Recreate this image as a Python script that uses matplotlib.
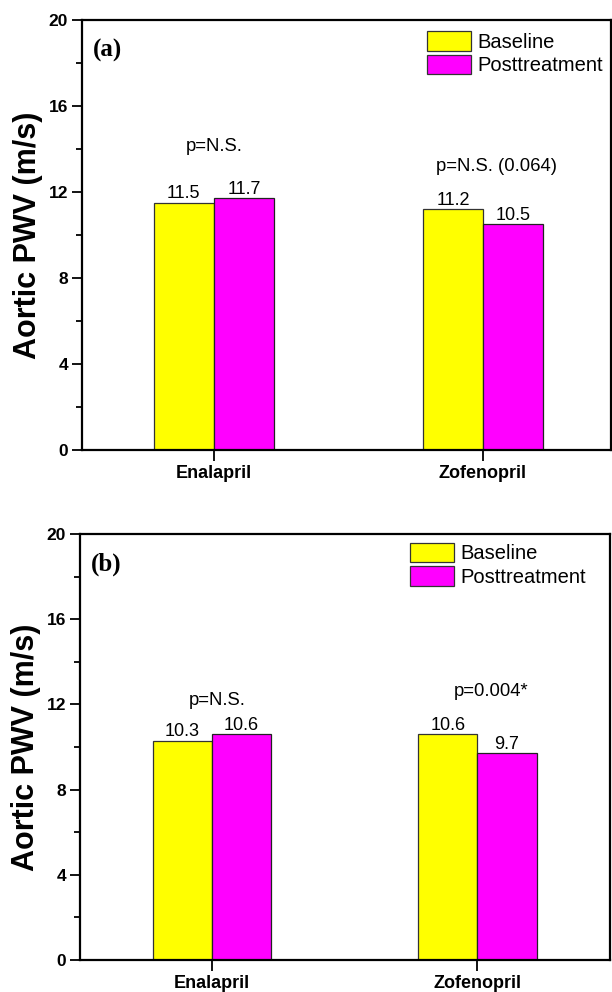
import matplotlib
matplotlib.use("Agg")
import matplotlib.pyplot as plt
from matplotlib.patches import Patch
from matplotlib.ticker import MultipleLocator

categories = ["Enalapril", "Zofenopril"]
series_names = ["Baseline", "Posttreatment"]
baseline_a = [11.5, 11.2]
post_a = [11.7, 10.5]
baseline_b = [10.3, 10.6]
post_b = [10.6, 9.7]
pvals_a = ["p=N.S.", "p=N.S. (0.064)"]
pvals_b = ["p=N.S.", "p=0.004*"]
pval_y_a = [14.1, 13.2]
pval_y_b = [12.2, 12.6]
pval_dx_a = [0.0, 0.05]
pval_dx_b = [0.02, 0.05]
panel_labels = ["(a)", "(b)"]
yticks = [0, 4, 8, 12, 16, 20]

plt.rcParams['font.family'] = ['Liberation Sans', 'DejaVu Sans']

fig = plt.figure(figsize=(6.12, 9.92), dpi=100)
ax_a = fig.add_axes([82/612, (992-450)/992, 529/612, 430/992])
ax_b = fig.add_axes([80/612, (992-960)/992, 530/612, 426/992])

colors = ["#FFFF00", "#FF00FF"]
bw = 0.223

def draw(ax, base, post, pvals, pys, pdx, plabel, leg_anchor, xlim):
    x = list(range(len(categories)))
    b1 = ax.bar([i - bw/2 for i in x], base, width=bw, color=colors[0],
                edgecolor="#333333", linewidth=0.9)
    b2 = ax.bar([i + bw/2 for i in x], post, width=bw, color=colors[1],
                edgecolor="#222222", linewidth=0.9)
    for bars, vals in ((b1, base), (b2, post)):
        for r, v in zip(bars, vals):
            ax.annotate(f"{v:.1f}", (r.get_x() + r.get_width()/2, v),
                        xytext=(0, 0.5), textcoords="offset points",
                        ha="center", va="bottom", fontsize=13)
    for i, (t, y, dx) in enumerate(zip(pvals, pys, pdx)):
        ax.text(i + dx, y, t, ha="center", va="center", fontsize=13.3)
    ax.set_ylim(0, 20)
    ax.set_xlim(*xlim)
    ax.set_xticks(x)
    ax.set_xticklabels(categories, fontsize=13, fontweight="bold")
    ax.set_yticks(yticks)
    ax.set_yticklabels([str(t) for t in yticks], fontsize=12.5, fontweight="bold")
    ax.yaxis.set_minor_locator(MultipleLocator(2))
    ax.tick_params(axis="y", which="major", direction="out", length=7, width=1.3, pad=3)
    ax.tick_params(axis="y", which="minor", direction="out", length=4, width=1.3)
    ax.tick_params(axis="x", which="major", direction="out", length=8, width=1.3, pad=3)
    for s in ax.spines.values():
        s.set_linewidth(1.6)
    ax.set_ylabel("Aortic PWV (m/s)", fontsize=22, fontweight="bold", labelpad=4)
    ax.text(0.021, 0.93, plabel, transform=ax.transAxes, ha="left", va="center",
            fontsize=18, fontweight="bold", family=["Liberation Serif", "DejaVu Serif"])
    handles = [Patch(facecolor=c, edgecolor="#333333", linewidth=0.9) for c in colors]
    ax.legend(handles, series_names, loc="upper left", bbox_to_anchor=leg_anchor,
              frameon=False, fontsize=14.5, borderaxespad=0, borderpad=0,
              handlelength=2.2, handleheight=1.1, labelspacing=0.15,
              handletextpad=0.3)

draw(ax_a, baseline_a, post_a, pvals_a, pval_y_a, pval_dx_a, panel_labels[0],
     (0.652, 0.974), (-0.49, 1.476))
draw(ax_b, baseline_b, post_b, pvals_b, pval_y_b, pval_dx_b, panel_labels[1],
     (0.623, 0.979), (-0.498, 1.50))

fig.savefig("out.png", dpi=100)
